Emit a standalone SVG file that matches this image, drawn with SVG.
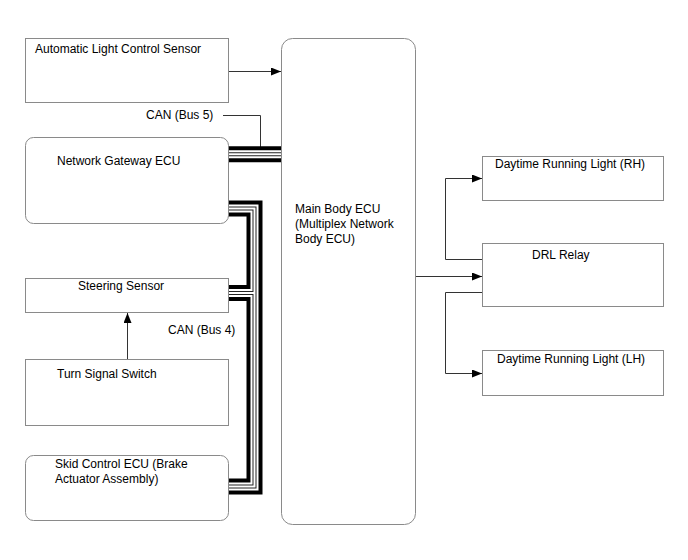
<svg xmlns="http://www.w3.org/2000/svg" width="688" height="560" viewBox="0 0 688 560">
<defs>
<marker id="arr" viewBox="0 0 10 8" refX="10" refY="4" markerWidth="10" markerHeight="8" markerUnits="userSpaceOnUse" orient="auto">
<path d="M0,0 L10,4 L0,8 Z" fill="#000"/>
</marker>
</defs>
<style>
.box{fill:#fff;stroke:#8a8a8a;stroke-width:1}
.t{font-family:"Liberation Sans",Arial,sans-serif;font-size:12px;fill:#000}
.ln{fill:none;stroke:#333;stroke-width:1}
.b1{fill:none;stroke:#000;stroke-width:16;stroke-linejoin:miter;stroke-linecap:butt}
.b2{fill:none;stroke:#fff;stroke-width:8;stroke-linejoin:miter;stroke-linecap:butt}
.b3{fill:none;stroke:#222;stroke-width:4;stroke-linejoin:miter;stroke-linecap:butt}
.b4{fill:none;stroke:#fff;stroke-width:2;stroke-linejoin:miter;stroke-linecap:butt}
</style>
<rect width="688" height="560" fill="#fff"/>

<g id="connectors">
<path class="ln" d="M229,71.5 H281" marker-end="url(#arr)"/>
<path class="ln" d="M223,115.5 H260.5 V147"/>
<path class="ln" d="M127.5,359 V313" marker-end="url(#arr)"/>
<path class="ln" d="M415,276.5 H482" marker-end="url(#arr)"/>
<path class="ln" d="M482,259.5 H445.5 V178.5 H482" marker-end="url(#arr)"/>
<path class="ln" d="M482,292.5 H445.5 V373.5 H482" marker-end="url(#arr)"/>
<g id="can-buses">
<path class="b1" d="M228,154.3 H281"/>
<path class="b1" d="M228,208.5 H254.5 V486.5 H228"/>
<path class="b1" d="M228,293 H254.5"/>
<path class="b2" d="M228,154.3 H281"/>
<path class="b2" d="M228,208.5 H254.5 V486.5 H228"/>
<path class="b2" d="M228,293 H254.5"/>
<path class="b3" d="M228,154.3 H281"/>
<path class="b3" d="M228,208.5 H254.5 V486.5 H228"/>
<path class="b3" d="M228,293 H254.5"/>
<path class="b4" d="M228,154.3 H281"/>
<path class="b4" d="M228,208.5 H254.5 V486.5 H228"/>
<path class="b4" d="M228,293 H254.5"/>
</g>
<text class="t" x="146" y="119">CAN (Bus 5)</text>
<text class="t" x="168" y="334">CAN (Bus 4)</text>
</g>

<g id="auto-light-sensor">
<rect class="box" x="25.5" y="38.5" width="203" height="64"/>
<text class="t" x="35" y="53">Automatic Light Control Sensor</text>
</g>
<g id="network-gateway-ecu">
<rect class="box" x="25.5" y="137.5" width="203" height="86" rx="8"/>
<text class="t" x="57" y="165">Network Gateway ECU</text>
</g>
<g id="steering-sensor">
<rect class="box" x="25.5" y="278.5" width="203" height="34"/>
<text class="t" x="78" y="290">Steering Sensor</text>
</g>
<g id="turn-signal-switch">
<rect class="box" x="25.5" y="359.5" width="203" height="66"/>
<text class="t" x="57" y="378">Turn Signal Switch</text>
</g>
<g id="skid-control-ecu">
<rect class="box" x="25.5" y="455.5" width="203" height="65" rx="8"/>
<text class="t" x="55" y="468">Skid Control ECU (Brake</text>
<text class="t" x="55" y="483">Actuator Assembly)</text>
</g>
<g id="main-body-ecu">
<rect class="box" x="281.5" y="38.5" width="134" height="486" rx="11"/>
<text class="t" x="295" y="213">Main Body ECU</text>
<text class="t" x="295" y="228">(Multiplex Network</text>
<text class="t" x="295" y="243">Body ECU)</text>
</g>
<g id="drl-rh">
<rect class="box" x="482.5" y="156.5" width="181" height="44"/>
<text class="t" x="495" y="168">Daytime Running Light (RH)</text>
</g>
<g id="drl-relay">
<rect class="box" x="482.5" y="243.5" width="181" height="63"/>
<text class="t" x="532" y="259">DRL Relay</text>
</g>
<g id="drl-lh">
<rect class="box" x="482.5" y="350.5" width="181" height="45"/>
<text class="t" x="497" y="363">Daytime Running Light (LH)</text>
</g>
</svg>
